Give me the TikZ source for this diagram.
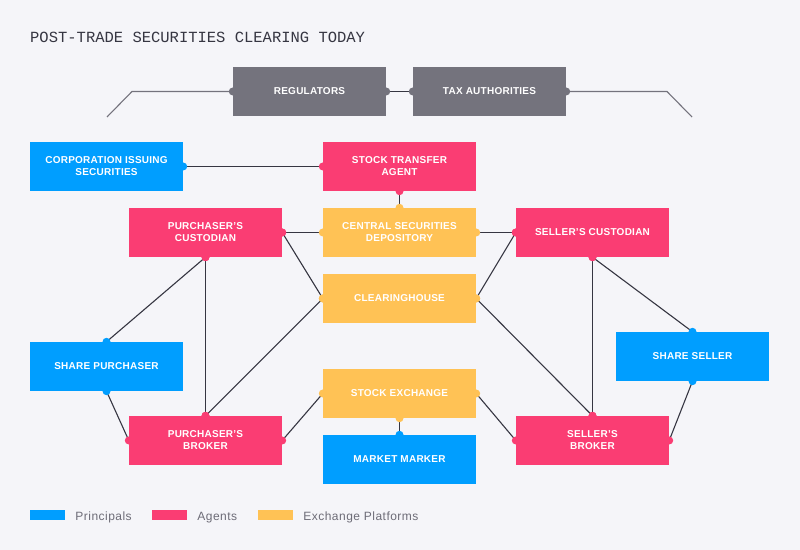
\documentclass[tikz,border=0pt]{standalone}
\usepackage{fontspec}
\setmainfont{Liberation Sans}
\setmonofont{Liberation Mono}
\usetikzlibrary{positioning}
\definecolor{paper}{HTML}{F5F5F9}
\definecolor{principal}{HTML}{009EFF}
\definecolor{agent}{HTML}{FA3D73}
\definecolor{platform}{HTML}{FFC255}
\definecolor{authority}{HTML}{74737D}
\definecolor{wirecol}{HTML}{363642}
\definecolor{inkgray}{HTML}{6D6C77}
\begin{document}
\begin{tikzpicture}[x=1bp, y=1bp,
    box/.style={minimum width=153bp, minimum height=49bp, inner sep=0pt, align=center,
      text=white, font=\bfseries\fontsize{10bp}{12bp}\selectfont\addfontfeatures{LetterSpace=2.5}},
    principalbox/.style={box, fill=principal},
    agentbox/.style={box, fill=agent},
    platformbox/.style={box, fill=platform},
    authoritybox/.style={box, fill=authority},
    wire/.style={draw=wirecol, line width=1.1bp},
    keybox/.style={minimum width=35bp, minimum height=10bp, inner sep=0pt},
    keytext/.style={right=10bp of #1, inner sep=0pt, text=inkgray, text height=8.5bp, text depth=2.5bp,
      yshift=-2.5bp, font=\fontsize{12bp}{13bp}\selectfont\addfontfeatures{LetterSpace=4}}]
  \fill[paper] (0,0) rectangle (800,550);
  \useasboundingbox (0,0) rectangle (800,550);
  \node [anchor=west, inner sep=0pt, text=wirecol, font=\ttfamily\fontsize{15.5bp}{18bp}\selectfont]
    (title) at (30,513) {POST-TRADE SECURITIES CLEARING TODAY};
  % authorities
  \node [authoritybox] (reg) at (309.5,458.5) {REGULATORS};
  \node [authoritybox] (tax) at (489.5,458.5) {TAX AUTHORITIES};
  \coordinate (regbend) at (132,458.5);
  \coordinate (regend) at (107,433);
  \coordinate (taxbend) at (667,458.5);
  \coordinate (taxend) at (692,433);
  \draw [draw=authority, line width=1.1bp] (reg.west) -- (regbend) -- (regend);
  \draw [draw=authority, line width=1.1bp] (tax.east) -- (taxbend) -- (taxend);
  \fill [authority] (reg.west) circle (4bp);
  \fill [authority] (tax.east) circle (4bp);
  % 
  \node [principalbox] (corp) at (106.5,383.5) {CORPORATION ISSUING\\SECURITIES};
  \node [agentbox] (sta) at (399.5,383.5) {STOCK TRANSFER\\AGENT};
  \node [agentbox] (pcust) at (205.5,317.5) {PURCHASER’S\\CUSTODIAN};
  \node [platformbox] (csd) at (399.5,317.5) {CENTRAL SECURITIES\\DEPOSITORY};
  \node [agentbox] (scust) at (592.5,317.5) {SELLER’S CUSTODIAN};
  \node [platformbox] (clear) at (399.5,251.5) {CLEARINGHOUSE};
  \node [principalbox] (spur) at (106.5,183.5) {SHARE PURCHASER};
  \node [principalbox] (ssel) at (692.5,193.5) {SHARE SELLER};
  \node [platformbox] (sexch) at (399.5,156.5) {STOCK EXCHANGE};
  \node [agentbox] (pbrk) at (205.5,109.5) {PURCHASER’S\\BROKER};
  \node [principalbox] (mm) at (399.5,90.5) {MARKET MARKER};
  \node [agentbox] (sbrk) at (592.5,109.5) {SELLER’S\\BROKER};
  % 
  \foreach \a/\ca/\b/\cb in {reg.east/authority/tax.west/authority,
      corp.east/principal/sta.west/agent,
      sta.south/agent/csd.north/platform,
      pcust.east/agent/csd.west/platform,
      csd.east/platform/scust.west/agent,
      pcust.east/agent/clear.west/platform,
      pcust.south/agent/spur.north/principal,
      pcust.south/agent/pbrk.north/agent,
      spur.south/principal/pbrk.west/agent,
      pbrk.north/agent/clear.west/platform,
      pbrk.east/agent/sexch.west/platform,
      sexch.south/platform/mm.north/principal,
      sexch.east/platform/sbrk.west/agent,
      clear.east/platform/scust.west/agent,
      clear.east/platform/sbrk.north/agent,
      scust.south/agent/sbrk.north/agent,
      scust.south/agent/ssel.north/principal,
      ssel.south/principal/sbrk.east/agent}
    {
      \draw [wire] (\a) -- (\b);
      \fill [\ca] (\a) circle (4bp);
      \fill [\cb] (\b) circle (4bp);
    }
  % key
  \node [keybox, fill=principal] (keyprin) at (47.5,35) {};
  \node [keytext=keyprin] (txtprin) {Principals};
  \node [keybox, fill=agent] (keyagent) at (169.5,35) {};
  \node [keytext=keyagent] (txtagent) {Agents};
  \node [keybox, fill=platform] (keyplat) at (275.5,35) {};
  \node [keytext=keyplat] (txtplat) {Exchange Platforms};
\end{tikzpicture}
\end{document}
